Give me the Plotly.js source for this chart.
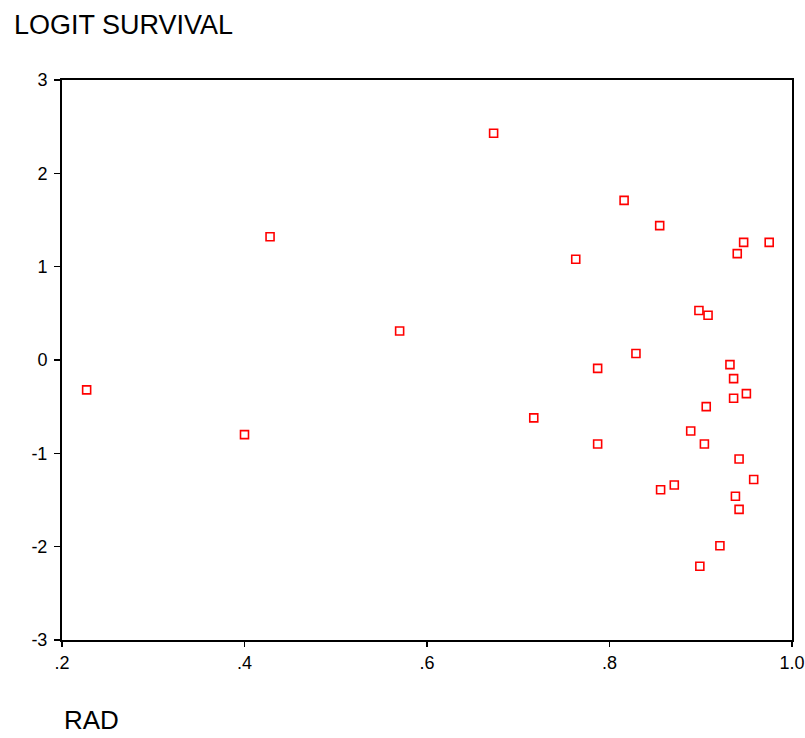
<!DOCTYPE html>
<html>
<head>
<meta charset="utf-8">
<script src="https://cdn.plot.ly/plotly-3.0.1.min.js"></script>
<style>html,body{margin:0;padding:0;background:#fff;}#chart{width:805px;height:738px;}</style>
</head>
<body>
<div id="chart"></div>
<script>
// RAD values (x) and LOGIT SURVIVAL values (y)
const rad = [0.227, 0.400, 0.428, 0.570, 0.673, 0.717, 0.763, 0.787, 0.787, 0.816,
             0.829, 0.855, 0.856, 0.871, 0.889, 0.898, 0.899, 0.904, 0.906, 0.908,
             0.921, 0.932, 0.936, 0.936, 0.938, 0.940, 0.942, 0.942, 0.947, 0.950,
             0.958, 0.975];
const logitSurvival = [-0.32, -0.80, 1.32, 0.31, 2.43, -0.62, 1.08, -0.09, -0.90, 1.71,
                       0.07, 1.44, -1.39, -1.34, -0.76, 0.53, -2.21, -0.90, -0.50, 0.48,
                       -1.99, -0.05, -0.20, -0.41, -1.46, 1.14, -1.06, -1.60, 1.26, -0.36,
                       -1.28, 1.26];
const xTickVals = [0.2, 0.4, 0.6, 0.8, 1.0];
const xTickText = ['.2', '.4', '.6', '.8', '1.0'];
const yTickVals = [-3, -2, -1, 0, 1, 2, 3];
const yTickText = ['-3', '-2', '-1', '0', '1', '2', '3'];

const font = 'Liberation Sans, Arial, sans-serif';
const data = [{
  type: 'scatter', mode: 'markers',
  x: rad, y: logitSurvival,
  marker: {symbol: 'square-open', size: 8, color: '#ff0000', line: {width: 1.6, color: '#ff0000'}},
  hoverinfo: 'x+y'
}];
const layout = {
  width: 805, height: 738,
  margin: {l: 62, r: 13, t: 80, b: 98, pad: 0},
  paper_bgcolor: '#fff', plot_bgcolor: '#fff',
  showlegend: false,
  xaxis: {
    range: [0.2, 1.0], tickvals: xTickVals, ticktext: xTickText,
    showgrid: false, zeroline: false, showline: true, linecolor: '#000', linewidth: 2,
    mirror: true, ticks: 'outside', ticklen: 5, tickwidth: 1.5, tickcolor: '#000',
    tickfont: {family: font, size: 18, color: '#000'}
  },
  yaxis: {
    range: [-3, 3], tickvals: yTickVals, ticktext: yTickText,
    showgrid: false, zeroline: false, showline: true, linecolor: '#000', linewidth: 2,
    mirror: true, ticks: 'outside', ticklen: 6, tickwidth: 1.5, tickcolor: '#000',
    ticklabelstandoff: 3,
    tickfont: {family: font, size: 18, color: '#000'}
  },
  annotations: [
    {text: 'LOGIT SURVIVAL', xref: 'paper', yref: 'paper', x: (12 - 62) / 730, y: 1 + 55 / 560,
     xanchor: 'left', yanchor: 'middle', showarrow: false, font: {family: font, size: 27, color: '#000'}},
    {text: 'RAD', xref: 'paper', yref: 'paper', x: 0, y: -97 / 560,
     xanchor: 'left', yanchor: 'bottom', showarrow: false, font: {family: font, size: 26, color: '#000'}}
  ]
};
Plotly.newPlot('chart', data, layout, {displayModeBar: false, staticPlot: true});
</script>
</body>
</html>
